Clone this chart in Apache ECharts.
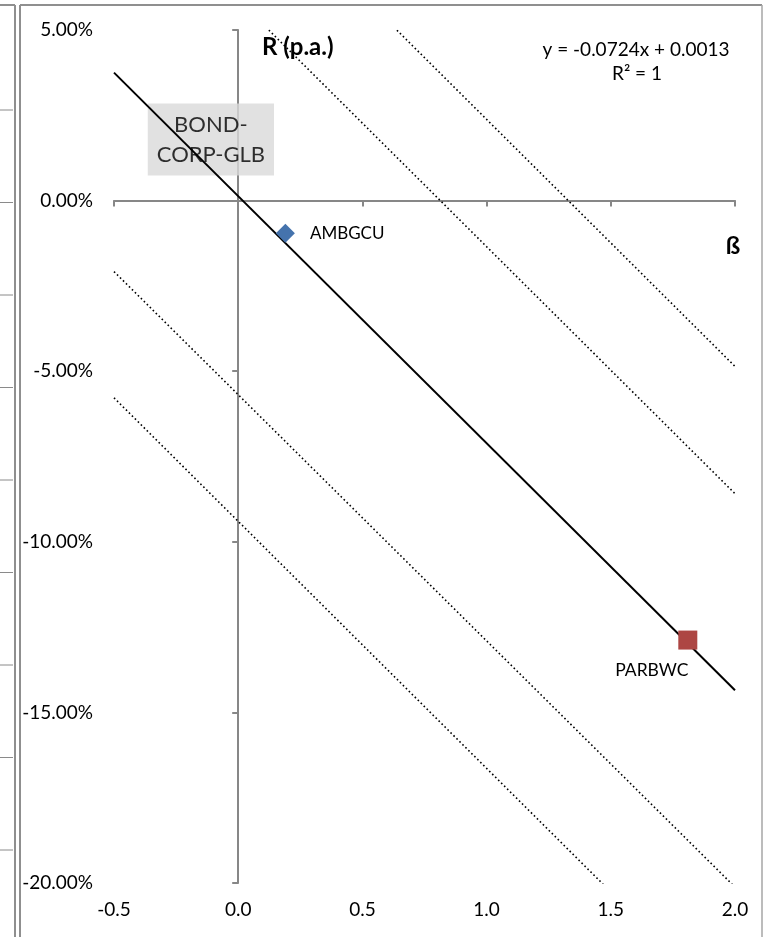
<!DOCTYPE html>
<html><head><meta charset="utf-8">
<script src="https://cdn.jsdelivr.net/npm/echarts@6/dist/echarts.min.js"></script>
<style>html,body{margin:0;padding:0;background:#fff}#c{width:765px;height:937px}</style>
</head><body><div id="c"></div>
<script>
// ---- data ----
const fundNames = ['AMBGCU', 'PARBWC'];
const fundBeta = [0.19, 1.81];
const fundReturn = [-0.96, -12.88];          // % p.a.
const benchmarkLabel = 'BOND-\nCORP-GLB';
const benchmarkPoint = [-0.11, 1.79];         // label anchor (beta, %)
const lineBeta = [-0.5, 2.0];                 // x extent of all straight lines
const trendReturn = [3.75, -14.35];           // solid regression line ends (%)
const bandReturns = [                          // dotted parallel lines ends (%)
  [13.24, -4.86],
  [9.51, -8.59],
  [-2.08, -20.12],
  [-5.78, -23.88]
];
const equationLines = ['y = -0.0724x + 0.0013', 'R² = 1'];
const xAxisTicks = [-0.5, 2.0, 0.5];           // min, max, interval
const yAxisTicks = [-20, 5, 5];                // min, max, interval (%)
const xAxisTitle = 'ß';
const yAxisTitle = 'R (p.a.)';

// ---- chart ----
const FONT = 'Lato';
const TXT = '#000';
const AX = '#878787';
const chart = echarts.init(document.getElementById('c'), null, {renderer: 'canvas'});

const pair = ys => lineBeta.map((x, i) => [x, ys[i]]);
const series = [];
series.push({
  type: 'scatter', z: 1, xAxisIndex: 0, yAxisIndex: 0,
  symbolSize: 0, silent: true,
  data: [benchmarkPoint],
  label: {
    show: true, position: 'inside', formatter: benchmarkLabel,
    backgroundColor: '#d9d9d9', padding: [6, 9, 6, 9],
    fontFamily: FONT, fontSize: 22, lineHeight: 30, color: TXT, align: 'center'
  }
});
bandReturns.forEach(b => series.push({
  type: 'line', z: 3, xAxisIndex: 0, yAxisIndex: 0, data: pair(b), symbol: 'none', clip: true,
  lineStyle: {color: '#000', width: 1.6, type: [1.6, 2.6]}, silent: true
}));
series.push({
  type: 'line', z: 4, xAxisIndex: 0, yAxisIndex: 0, data: pair(trendReturn), symbol: 'none', clip: true,
  lineStyle: {color: '#000', width: 2}, silent: true
});
series.push({
  type: 'scatter', z: 5, xAxisIndex: 0, yAxisIndex: 0, symbol: 'diamond', symbolSize: 19,
  data: [[fundBeta[0], fundReturn[0]]],
  itemStyle: {color: '#4573ad', opacity: 1},
  label: {show: true, position: 'right', distance: 15, formatter: fundNames[0],
    fontFamily: FONT, fontSize: 17, color: TXT}
});
series.push({
  type: 'scatter', z: 5, xAxisIndex: 0, yAxisIndex: 0, symbol: 'rect', symbolSize: 19,
  data: [[fundBeta[1], fundReturn[1]]],
  itemStyle: {color: '#ad4643', opacity: 1},
  label: {show: true, position: 'bottom', distance: 12, offset: [-36, 0], formatter: fundNames[1],
    fontFamily: FONT, fontSize: 17.5, color: TXT}
});

const labelAxisX = {
  type: 'value', min: xAxisTicks[0], max: xAxisTicks[1], interval: xAxisTicks[2], position: 'bottom',
  axisLine: {show: false, onZero: false}, axisTick: {show: false}, splitLine: {show: false},
  axisLabel: {margin: 17, fontFamily: FONT, fontSize: 19, color: TXT, formatter: v => v.toFixed(1)}
};
const lineAxisX = {
  type: 'value', min: xAxisTicks[0], max: xAxisTicks[1], interval: xAxisTicks[2], position: 'bottom',
  axisLine: {show: true, onZero: true, onZeroAxisIndex: 1, lineStyle: {color: AX, width: 2}},
  axisTick: {show: true, inside: false, length: 6, lineStyle: {color: AX, width: 2}},
  axisLabel: {show: false}, splitLine: {show: false}
};
const labelAxisY = {
  type: 'value', min: yAxisTicks[0], max: yAxisTicks[1], interval: yAxisTicks[2], position: 'left',
  axisLine: {show: false, onZero: false}, axisTick: {show: false}, splitLine: {show: false},
  axisLabel: {margin: 21, fontFamily: FONT, fontSize: 19, color: TXT, formatter: v => v.toFixed(2) + '%'}
};
const lineAxisY = {
  type: 'value', min: yAxisTicks[0], max: yAxisTicks[1], interval: yAxisTicks[2], position: 'left',
  axisLine: {show: true, onZero: true, onZeroAxisIndex: 1, lineStyle: {color: AX, width: 2}},
  axisTick: {show: true, inside: false, length: 6, lineStyle: {color: AX, width: 2}},
  axisLabel: {show: false}, splitLine: {show: false}
};

const border = '#8f8f8f';
const neighborGrid = [110, 202.5, 295, 387.5, 480, 572.5, 665, 757.5, 850];
const graphic = [
  {type: 'line', shape: {x1: 20, y1: 5, x2: 762, y2: 5}, style: {stroke: border, lineWidth: 2}, silent: true},
  {type: 'line', shape: {x1: 20, y1: 5, x2: 20, y2: 937}, style: {stroke: border, lineWidth: 2}, silent: true},
  {type: 'line', shape: {x1: 762, y1: 5, x2: 762, y2: 937}, style: {stroke: '#a6a6a6', lineWidth: 1.5}, silent: true},
  {type: 'line', shape: {x1: 0, y1: 5, x2: 15, y2: 5}, style: {stroke: border, lineWidth: 2}, silent: true},
  {type: 'line', shape: {x1: 15, y1: 5, x2: 15, y2: 937}, style: {stroke: border, lineWidth: 2}, silent: true},
  ...neighborGrid.map(y => ({type: 'line', shape: {x1: 0, y1: y, x2: 13, y2: y}, style: {stroke: '#8a8a8a', lineWidth: 1}, silent: true})),
  {type: 'text', x: 636, y: 50, style: {text: equationLines[0], font: '19px ' + FONT, fill: TXT, textAlign: 'center', textVerticalAlign: 'middle'}},
  {type: 'text', x: 637, y: 74, style: {text: equationLines[1], font: '19px ' + FONT, fill: TXT, textAlign: 'center', textVerticalAlign: 'middle'}},
  {type: 'text', x: 262, y: 47, style: {text: yAxisTitle, font: 'bold 24px ' + FONT, fill: TXT, textAlign: 'left', textVerticalAlign: 'middle'}},
  {type: 'text', x: 733, y: 246, style: {text: xAxisTitle, font: 'bold 24px ' + FONT, fill: TXT, textAlign: 'center', textVerticalAlign: 'middle'}}
];

chart.setOption({
  animation: false,
  backgroundColor: '#fff',
  grid: {left: 114, right: 30, top: 30, bottom: 54, containLabel: false, outerBoundsMode: 'none'},
  xAxis: [labelAxisX, lineAxisX],
  yAxis: [labelAxisY, lineAxisY],
  series: series,
  graphic: graphic
});
</script></body></html>
